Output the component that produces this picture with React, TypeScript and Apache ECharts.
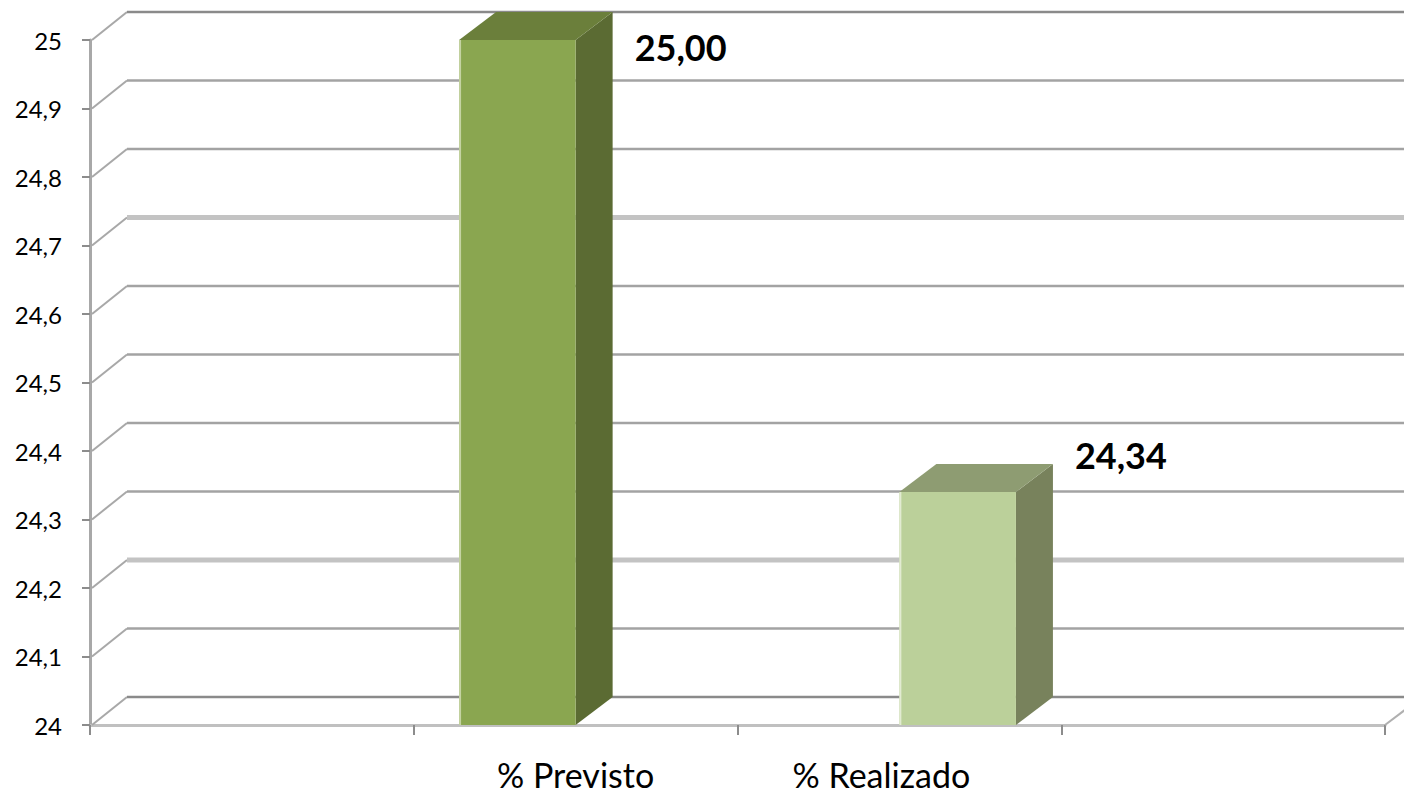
import React, { useEffect, useRef } from 'react';
import * as echarts from 'echarts';

// ---- data ----
const categories = ['', '% Previsto', '% Realizado', ''];
const barCategoryIndex = [1, 2];
const barValues = [25.0, 24.34];
const yTicks = [24, 24.1, 24.2, 24.3, 24.4, 24.5, 24.6, 24.7, 24.8, 24.9, 25];

// ---- style ----
const DEPTH_X = 37;
const DEPTH_Y = -28;
const FONT = 'Lato, "Liberation Sans", sans-serif';
const barColors = [
  { front: '#8aa650', side: '#5b6b33', top: '#6b7f3b', edge: '#c5d3a3' },
  { front: '#bbd09a', side: '#78825c', top: '#8e9c72', edge: '#e2ebd2' },
];

const fmtTick = (v: number) => String(Math.round(v * 10) / 10).replace('.', ',');

export default function App() {
  const ref = useRef<HTMLDivElement>(null);
  useEffect(() => {
    document.body.style.margin = '0';
    if (!ref.current) return;
    const chart = echarts.init(ref.current, undefined, { renderer: 'svg' });
    chart.setOption({
      animation: false,
      backgroundColor: '#ffffff',
      grid: { left: 90, right: 19, top: 40, bottom: 69, containLabel: false },
      xAxis: {
        type: 'category',
        data: categories,
        boundaryGap: true,
        axisLine: { show: true, lineStyle: { color: '#c0c0c0', width: 3 } },
        axisTick: { show: true, length: 10, interval: 0, lineStyle: { color: '#8c8c8c', width: 2 } },
        axisLabel: {
          interval: 0,
          color: '#000',
          fontSize: 34,
          fontFamily: FONT,
          margin: 32,
          formatter: (v: string, i: number) => (i === 2 ? `{s|${v}}` : v),
          rich: { s: { fontSize: 34, fontFamily: FONT, color: '#000', padding: [0, 36, 0, 0] } },
        },
        splitLine: { show: false },
      },
      yAxis: {
        type: 'value',
        min: 24,
        max: 25,
        interval: 0.1,
        axisLine: { show: true, lineStyle: { color: '#a8a8a8', width: 3 } },
        axisTick: { show: true, length: 8, lineStyle: { color: '#8c8c8c', width: 2 } },
        axisLabel: { color: '#000', fontSize: 24, fontFamily: FONT, margin: 28, formatter: fmtTick },
        splitLine: { show: false },
      },
      series: [
        {
          type: 'custom',
          z: 1,
          clip: false,
          silent: true,
          data: yTicks.map((v) => [0, v]),
          renderItem: (params: any, api: any) => {
            const v = api.value(1);
            const p = api.coord([0, v]);
            const cs = params.coordSys;
            const x0 = cs.x;
            const y = p[1];
            const heavy = Math.abs(v - 24.2) < 1e-6 || Math.abs(v - 24.7) < 1e-6;
            const edge = Math.abs(v - 24) < 1e-6 || Math.abs(v - 25) < 1e-6;
            const color = heavy ? '#c3c3c3' : edge ? '#8a8a8a' : '#a3a3a3';
            const width = heavy ? 5 : 2.5;
            const children: any[] = [
              {
                type: 'line',
                shape: { x1: x0 + 2, y1: y, x2: x0 + DEPTH_X, y2: y + DEPTH_Y },
                style: { stroke: '#a8a8a8', lineWidth: 2 },
              },
              {
                type: 'line',
                shape: { x1: x0 + DEPTH_X, y1: y + DEPTH_Y, x2: 1430, y2: y + DEPTH_Y },
                style: { stroke: color, lineWidth: width },
              },
            ];
            if (Math.abs(v - 24) < 1e-6) {
              const xr = cs.x + cs.width;
              children.push({
                type: 'line',
                shape: { x1: xr, y1: y, x2: xr + DEPTH_X, y2: y + DEPTH_Y },
                style: { stroke: '#b0b0b0', lineWidth: 2 },
              });
            }
            return { type: 'group', children };
          },
        },
        {
          type: 'custom',
          z: 3,
          clip: false,
          data: barCategoryIndex.map((c, i) => [c, barValues[i]]),
          renderItem: (params: any, api: any) => {
            const c = api.value(0);
            const v = api.value(1);
            const cs = params.coordSys;
            const top = api.coord([c, v]);
            const base = api.coord([c, 24]);
            const band = api.size([1, 0])[0];
            const w = band * 0.36;
            const shift = (c - 1.5) * w;
            const xl = top[0] + shift - w / 2;
            const xr = xl + w;
            const yt = top[1];
            const yb = base[1];
            const col = barColors[params.dataIndex % barColors.length];
            return {
              type: 'group',
              children: [
                {
                  type: 'polygon',
                  shape: { points: [[xr, yb], [xr + DEPTH_X, yb + DEPTH_Y], [xr + DEPTH_X, yt + DEPTH_Y], [xr, yt]] },
                  style: { fill: col.side },
                },
                {
                  type: 'polygon',
                  shape: { points: [[xl, yt], [xl + DEPTH_X, yt + DEPTH_Y], [xr + DEPTH_X, yt + DEPTH_Y], [xr, yt]] },
                  style: { fill: col.top },
                },
                {
                  type: 'rect',
                  shape: { x: xl, y: yt, width: w, height: yb - yt },
                  style: { fill: col.front },
                },
                {
                  type: 'line',
                  shape: { x1: xl + 1, y1: yt, x2: xl + 1, y2: yb },
                  style: { stroke: col.edge, lineWidth: 2 },
                },
                {
                  type: 'text',
                  style: {
                    x: xr + DEPTH_X + 22,
                    y: Math.max(yt + DEPTH_Y - 9, cs.y + 7),
                    text: v.toFixed(2).replace('.', ','),
                    fill: '#000',
                    font: `bold 36px ${FONT}`,
                    align: 'left',
                    verticalAlign: 'middle',
                  },
                },
              ],
            };
          },
        },
      ],
    });
    return () => chart.dispose();
  }, []);
  return <div ref={ref} style={{ width: 1404, height: 794 }} />;
}
